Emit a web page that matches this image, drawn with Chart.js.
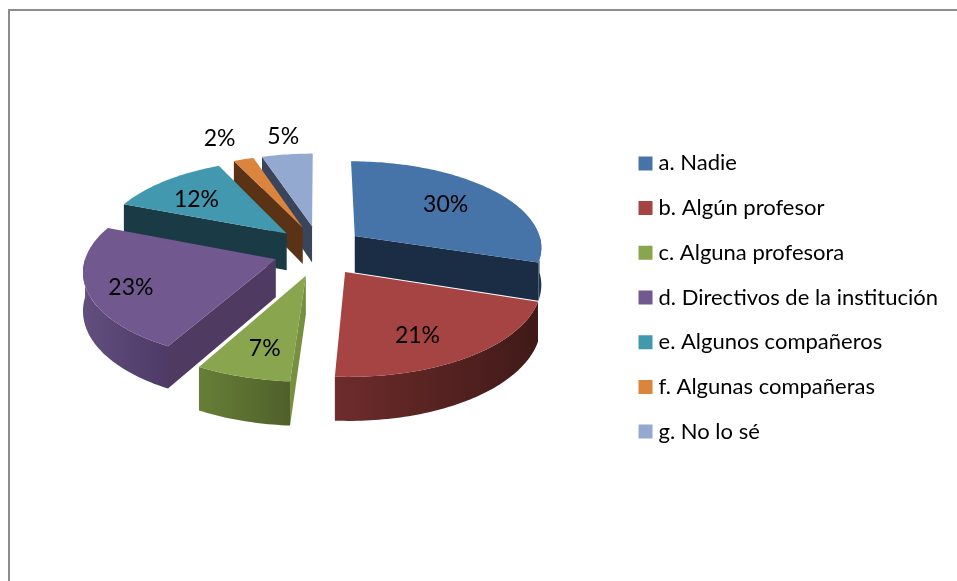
<!DOCTYPE html>
<html lang="es">
<head>
<meta charset="UTF-8">
<title>Gráfico circular</title>
<script src="https://cdn.jsdelivr.net/npm/chart.js"></script>
<style>
  html, body { margin: 0; padding: 0; background: #fff; overflow: hidden; }
  #wrap { position: relative; width: 957px; height: 581px; }
  #frame { position: absolute; left: 8px; top: 9px; right: 0; bottom: 0;
           border-top: 2px solid #8c8c8c; border-left: 2px solid #8c8c8c; }
  canvas { position: absolute; left: 0; top: 0; }
</style>
</head>
<body>
<div id="wrap">
  <div id="frame"></div>
  <canvas id="chart" width="957" height="581"></canvas>
</div>
<script>
// Data
const categories = ['a. Nadie', 'b. Algún profesor', 'c. Alguna profesora', 'd. Directivos de la institución', 'e. Algunos compañeros', 'f. Algunas compañeras', 'g. No lo sé'];
const percentages = [30, 21, 7, 23, 12, 2, 5];

// Colours per slice
const topColors = ['#4674a9', '#a54442', '#89a54e', '#71588f', '#4198af', '#db843d', '#93a9cf'];
const cutColors = ['#1a2d45', '#47201c', '#76903f', '#4f3b62', '#1a3a46', '#5a3216', '#3a455b'];
const wallDark = ['#1a2d45', '#401a18', '#4f602a', '#4d3a66', '#1a3a46', '#5a3216', '#3a455b'];
const wallLight = ['#24405f', '#6e2c2c', '#677f38', '#624f7e', '#24505f', '#73401c', '#4d5b78'];

// Fake 3D settings
const explode = 0.24;     // how far slices are pulled out, as part of the radius
const explodeStretchV = 1.22;
const perspective = 0.119;
const squash = 0.46;      // ground plane height vs width
const depth = 37.5;
const pieShiftX = 2;
const pieShiftY = -47;    // legend is centred lower than the pie
const labelRadius = [0.62, 0.62, 0.62, 0.62, 0.62, 1.42, 1.36];
const labelNudge = [[3, -5], [-1, 18], [-4, 19], [-30, 11], [-12, -3], [-2, 1], [4, 1]];
const labelFont = '23px Lato';

function project (arc, u, v, z) {
  const w = 1 / (1 - perspective * v);
  const r = arc.outerRadius;
  return {
    x: arc.x + pieShiftX + r * u * w,
    y: arc.y + pieShiftY + r * squash * v * w + z * depth * w
  };
}

function tracePoints (ctx, points) {
  ctx.beginPath();
  points.forEach((p, i) => (i ? ctx.lineTo(p.x, p.y) : ctx.moveTo(p.x, p.y)));
  ctx.closePath();
}

// Points on the outer rim of a slice between two canvas angles
function rimPoints (arc, from, to, ou, ov, z) {
  const points = [];
  const steps = Math.max(2, Math.ceil((to - from) / 0.02));
  for (let i = 0; i <= steps; i++) {
    const a = from + (to - from) * i / steps;
    points.push(project(arc, ou + Math.cos(a), ov + Math.sin(a), z));
  }
  return points;
}

function drawSlice (ctx, arc, index) {
  const start = arc.startAngle;
  const end = arc.endAngle;
  const mid = (start + end) / 2;
  const ou = Math.cos(mid) * explode;
  const ov = Math.sin(mid) * explode * explodeStretchV;

  // flat cut faces, only those turned towards the viewer
  [[start, -Math.cos(start)], [end, Math.cos(end)]].forEach(([a, facing]) => {
    if (facing <= 0) return;
    const edge = [0, 1].map(t => [ou + Math.cos(a) * t, ov + Math.sin(a) * t]);
    tracePoints(ctx, [
      project(arc, edge[0][0], edge[0][1], 0),
      project(arc, edge[1][0], edge[1][1], 0),
      project(arc, edge[1][0], edge[1][1], 1),
      project(arc, edge[0][0], edge[0][1], 1)
    ]);
    ctx.fillStyle = cutColors[index];
    ctx.fill();
  });

  // curved outer wall, front half only
  const from = Math.max(start, 0);
  const to = Math.min(end, Math.PI);
  if (to > from) {
    const topEdge = rimPoints(arc, from, to, ou, ov, 0);
    const bottomEdge = rimPoints(arc, from, to, ou, ov, 1).reverse();
    const xs = topEdge.map(p => p.x);
    const grad = ctx.createLinearGradient(Math.min(...xs), 0, Math.max(...xs), 0);
    grad.addColorStop(0, wallLight[index]);
    grad.addColorStop(1, wallDark[index]);
    tracePoints(ctx, topEdge.concat(bottomEdge));
    ctx.fillStyle = grad;
    ctx.fill();
  }

  // top face
  tracePoints(ctx, [project(arc, ou, ov, 0)].concat(rimPoints(arc, start, end, ou, ov, 0)));
  ctx.fillStyle = topColors[index];
  ctx.fill();
}

const pie3d = {
  id: 'pie3d',
  beforeDatasetsDraw (chart) {
    const ctx = chart.ctx;
    const arcs = chart.getDatasetMeta(0).data;
    const order = arcs.map((arc, i) => i).sort((a, b) =>
      Math.sin((arcs[a].startAngle + arcs[a].endAngle) / 2) - Math.sin((arcs[b].startAngle + arcs[b].endAngle) / 2));
    ctx.save();
    order.forEach(i => drawSlice(ctx, arcs[i], i));

    // percentage labels
    ctx.font = labelFont;
    ctx.fillStyle = '#000';
    ctx.textAlign = 'center';
    ctx.textBaseline = 'middle';
    arcs.forEach((arc, i) => {
      const mid = (arc.startAngle + arc.endAngle) / 2;
      const r = explode + labelRadius[i];
      const p = project(arc, Math.cos(mid) * r, Math.sin(mid) * r, 0);
      ctx.fillText(percentages[i] + '%', p.x + labelNudge[i][0], p.y + labelNudge[i][1]);
    });
    ctx.restore();
    return false; // the library's flat arcs are replaced by the ones above
  }
};

new Chart(document.getElementById('chart').getContext('2d'), {
  type: 'pie',
  data: {
    labels: categories,
    datasets: [{ data: percentages, backgroundColor: topColors, borderWidth: 0 }]
  },
  options: {
    responsive: false,
    animation: false,
    radius: 188.5,
    layout: { padding: { left: 13, right: 9, top: 20, bottom: 6 } },
    plugins: {
      tooltip: { enabled: false },
      legend: {
        position: 'right',
        labels: {
          font: { family: 'Lato', size: 22 },
          color: '#000',
          padding: 22.7,
          usePointStyle: true,
          pointStyleWidth: 4,
          boxHeight: 4,
          // small rect with a thick border: keeps the text close to the 14px swatch
          generateLabels: chart => categories.map((text, i) => ({
            text,
            fillStyle: topColors[i],
            strokeStyle: topColors[i],
            lineWidth: 10,
            pointStyle: 'rect',
            fontColor: '#000',
            index: i
          }))
        }
      }
    }
  },
  plugins: [pie3d]
});
</script>
</body>
</html>
